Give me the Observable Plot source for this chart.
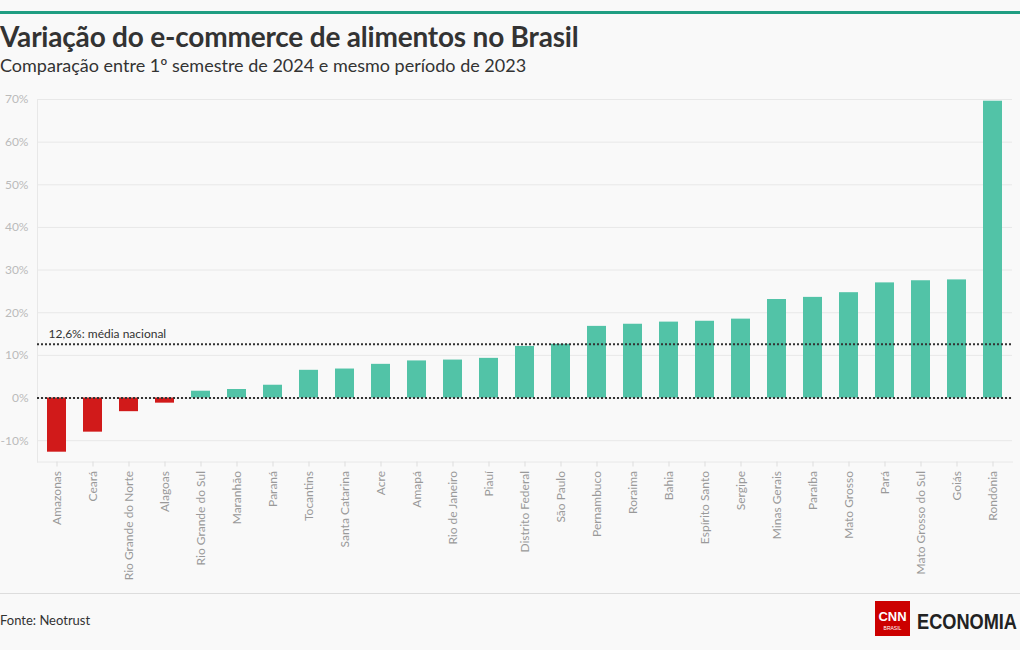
<!DOCTYPE html>
<html>
<head>
<meta charset="utf-8">
<script src="https://cdn.jsdelivr.net/npm/d3@7"></script>
<script src="https://cdn.jsdelivr.net/npm/@observablehq/plot@0.6"></script>
<style>
  html, body { margin: 0; padding: 0; background: #f9f9f9; }
  body { width: 1020px; height: 650px; position: relative; overflow: hidden; font-family: Lato, "Open Sans", sans-serif; }
  #topline { position: absolute; left: 0; top: 11px; width: 1020px; height: 3px; background: #1f9e82; }
  #title { position: absolute; left: 0; top: 19px; font-size: 28px; font-weight: 700; color: #333; white-space: nowrap; letter-spacing: -0.2px; }
  #subtitle { position: absolute; left: 0; top: 54px; font-size: 18px; color: #333; white-space: nowrap; }
  #chart { position: absolute; left: 0; top: 88px; }
  #footline { position: absolute; left: 0; top: 593px; width: 1020px; height: 1px; background: #dddddd; }
  #source { position: absolute; left: 0; top: 612px; font-size: 13px; color: #333; }
  #logo { position: absolute; left: 875px; top: 601px; }
</style>
</head>
<body>
<div id="topline"></div>
<div id="title">Variação do e-commerce de alimentos no Brasil</div>
<div id="subtitle">Comparação entre 1º semestre de 2024 e mesmo período de 2023</div>
<div id="chart"></div>
<div id="footline"></div>
<div id="source">Fonte: Neotrust</div>
<div id="logo">
  <svg width="145" height="36">
    <rect x="0" y="0" width="35" height="35" fill="#cc0000"></rect>
    <text x="17.5" y="20" text-anchor="middle" fill="#fff" font-family="Liberation Sans, sans-serif" font-weight="700" font-size="13">CNN</text>
    <text x="17.5" y="29" text-anchor="middle" fill="#fff" font-family="Liberation Sans, sans-serif" font-size="5">BRASIL</text>
    <g transform="translate(42,28) scale(1,1.4)">
      <text x="0" y="0" fill="#222" font-family="Liberation Sans, sans-serif" font-weight="700" font-size="16" textLength="100" lengthAdjust="spacingAndGlyphs">ECONOMIA</text>
    </g>
  </svg>
</div>
<script>
const states = ["Amazonas","Ceará","Rio Grande do Norte","Alagoas","Rio Grande do Sul","Maranhão","Paraná","Tocantins","Santa Catarina","Acre","Amapá","Rio de Janeiro","Piauí","Distrito Federal","São Paulo","Pernambuco","Roraima","Bahia","Espírito Santo","Sergipe","Minas Gerais","Paraíba","Mato Grosso","Pará","Mato Grosso do Sul","Goiás","Rondônia"];
const values = [-12.7,-8.0,-3.2,-1.2,1.6,2.0,3.0,6.5,6.8,7.9,8.7,8.9,9.3,12.1,12.6,16.8,17.3,17.8,18.0,18.5,23.1,23.6,24.7,27.0,27.5,27.7,69.6];
const yTicks = [-10,0,10,20,30,40,50,60,70];
const mean = 12.6;
const meanLabel = "12,6%: média nacional";

const data = states.map((s, i) => ({state: s, value: values[i]}));
const green = "#52c3a7", red = "#d11a1a";

const chart = Plot.plot({
  width: 1020,
  height: 500,
  marginLeft: 37,
  marginRight: 8,
  marginTop: 11,
  marginBottom: 126.5,
  style: {background: "transparent", fontFamily: "Lato, 'Open Sans', sans-serif", fontSize: "11px"},
  x: {domain: states, paddingInner: 0.46, paddingOuter: 0.23, label: null},
  y: {domain: [-15, 70], label: null},
  marks: [
    Plot.gridY(yTicks, {stroke: "#e8e8e8", strokeOpacity: 1}),
    Plot.frame({anchor: "left", stroke: "#e8e8e8"}),
    Plot.frame({anchor: "bottom", stroke: "#e8e8e8"}),
    Plot.axisY(yTicks, {tickSize: 0, tickPadding: 9, tickFormat: d => d + "%", fill: "#bbbbbb", label: null, fontSize: 12}),
    Plot.axisX({tickRotate: -90, tickSize: 5, tickPadding: 4, stroke: "#dddddd", fill: "#999999", label: null, fontSize: 12}),
    Plot.barY(data, {x: "state", y: "value", fill: d => d.value < 0 ? red : green}),
    Plot.ruleY([0, mean], {stroke: "#333", strokeWidth: 2, strokeDasharray: "2,2"}),
    Plot.text([meanLabel], {frameAnchor: "left", y: mean, dx: 11, dy: -10, textAnchor: "start", fill: "#333", fontSize: 12})
  ]
});
document.getElementById("chart").appendChild(chart);
</script>
</body>
</html>
